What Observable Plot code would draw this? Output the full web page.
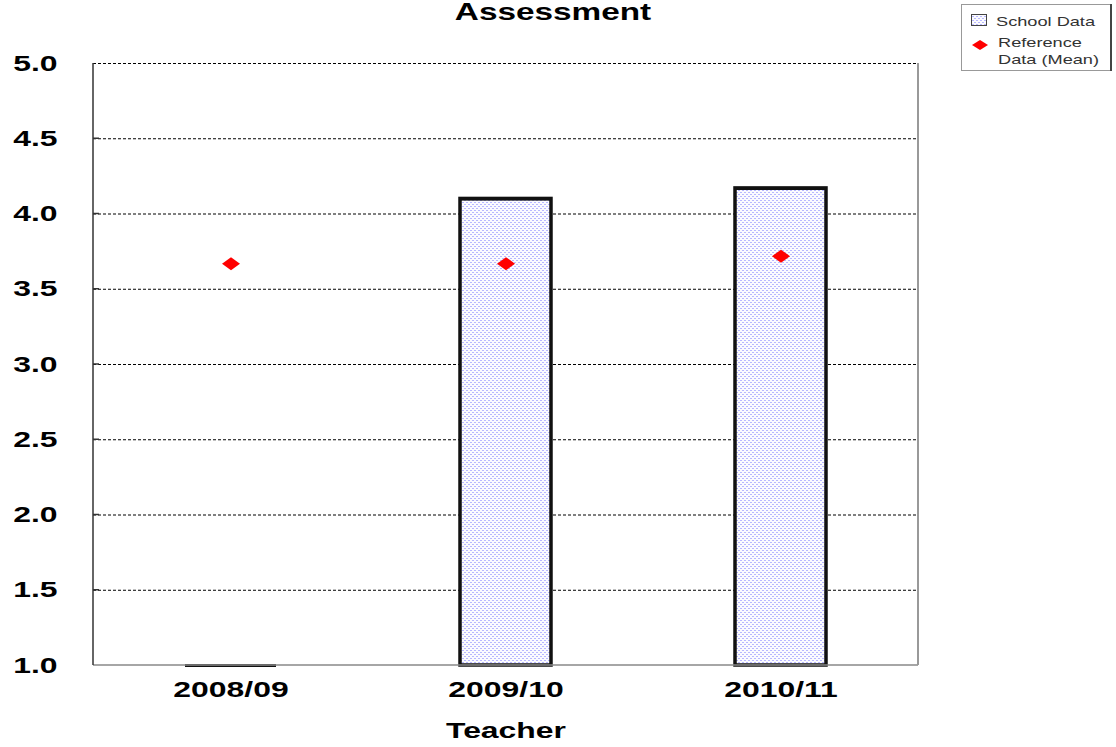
<!DOCTYPE html>
<html>
<head>
<meta charset="utf-8">
<script src="https://cdn.jsdelivr.net/npm/d3@7"></script>
<script src="https://cdn.jsdelivr.net/npm/@observablehq/plot@0.6"></script>
<style>
  html, body { margin: 0; padding: 0; background: #fff; }
  #chart { position: relative; width: 1116px; height: 747px; }
</style>
</head>
<body>
<div id="chart"></div>
<script>
// ---- data ----
const years = ["2008/09", "2009/10", "2010/11"];
const schoolData = [1.0, 4.10, 4.17];
const referenceMean = [3.67, 3.67, 3.72];
const yTicks = [1.0, 1.5, 2.0, 2.5, 3.0, 3.5, 4.0, 4.5, 5.0];
const titleText = "Assessment";
const xLabel = "Teacher";
const legendLabels = ["School Data", "Reference", "Data (Mean)"];

const rows = years.map((y, i) => ({year: y, school: schoolData[i], ref: referenceMean[i]}));

const FONT = "Liberation Sans, Arial, Helvetica, sans-serif";
const STRETCH = 1.45;

const wideDiamond = {
  draw(ctx) {
    const w = 9, h = 6.5;
    ctx.moveTo(-w, 0); ctx.lineTo(0, -h); ctx.lineTo(w, 0); ctx.lineTo(0, h); ctx.closePath();
  }
};

const plot = Plot.plot({
  width: 1116,
  height: 747,
  marginLeft: 93,
  marginRight: 198,
  marginTop: 63,
  marginBottom: 82,
  style: {fontFamily: FONT, background: "white", overflow: "visible"},
  x: {domain: years, paddingInner: 0.67, paddingOuter: 0.335, label: null},
  y: {domain: [1, 5], label: null},
  marks: [
    Plot.ruleY(yTicks.slice(1), {stroke: "#000", strokeWidth: 1, strokeDasharray: "3,2"}),
    Plot.barY(rows, {x: "year", y1: yTicks[0], y2: "school", fill: "url(#dots)", stroke: "#111", strokeWidth: 3.5}),
    Plot.tickY(rows, {x: "year", y: "school", stroke: "#111", strokeWidth: 3}),
    Plot.dot(rows, {x: "year", y: "ref", symbol: wideDiamond, fill: "#ff0000", stroke: "none"}),
    Plot.axisY({ticks: yTicks, tickFormat: d => d.toFixed(1), tickSize: 0, tickPadding: 36,
      fontSize: 22, fontWeight: "bold", fill: "#000", label: null}),
    Plot.axisX({tickSize: 0, tickPadding: 16, fontSize: 22, fontWeight: "bold", fill: "#000", label: null}),
    Plot.text([xLabel], {frameAnchor: "bottom", dx: 0, dy: 65, lineAnchor: "middle",
      fontSize: 22, fontWeight: "bold", fill: "#000"}),
    Plot.text([titleText], {frameAnchor: "top", dx: 47, dy: -60, lineAnchor: "top",
      fontSize: 23, fontWeight: "bold", fill: "#000"})
  ]
});

const svg = d3.select(plot);

// pattern for bars
const defs = svg.insert("defs", ":first-child");
const pat = defs.append("pattern").attr("id", "dots").attr("patternUnits", "userSpaceOnUse")
  .attr("width", 4).attr("height", 4);
pat.append("rect").attr("width", 4).attr("height", 4).attr("fill", "#fbfbff");
pat.append("rect").attr("x", 0).attr("y", 0).attr("width", 2).attr("height", 1).attr("fill", "#b8b8ff");
pat.append("rect").attr("x", 2).attr("y", 2).attr("width", 2).attr("height", 1).attr("fill", "#b8b8ff");

// stretch all text horizontally
svg.selectAll("text").each(function() {
  const t = d3.select(this);
  const tr = t.attr("transform") || "";
  t.attr("transform", tr + ` scale(${STRETCH},1)`);
});

// frame lines (left, right, bottom)
const yS = plot.scale("y");
const y0 = yS.apply(1), y1 = yS.apply(5);
const xL = 93, xR = 1116 - 198;
const frame = svg.append("g");
frame.append("line").attr("x1", xL).attr("x2", xR).attr("y1", y0).attr("y2", y0).attr("stroke", "#888").attr("stroke-width", 1.5);
frame.append("line").attr("x1", xR).attr("x2", xR).attr("y1", y1).attr("y2", y0).attr("stroke", "#999").attr("stroke-width", 2);
frame.append("line").attr("x1", xL).attr("x2", xL).attr("y1", y1).attr("y2", y0).attr("stroke", "#333").attr("stroke-width", 1.5);
// small inner ticks on left axis
frame.selectAll(".tk").data(yTicks.slice(1, -1)).join("line")
  .attr("x1", xL).attr("x2", xL + 6).attr("y1", d => yS.apply(d)).attr("y2", d => yS.apply(d))
  .attr("stroke", "#333").attr("stroke-width", 1.5);

// legend
const lg = svg.append("g").attr("font-family", FONT).attr("font-size", 13).attr("fill", "#333")
  .attr("text-anchor", "start");
lg.append("rect").attr("x", 961.5).attr("y", 4.5).attr("width", 149).attr("height", 66)
  .attr("fill", "white").attr("stroke", "#999").attr("stroke-width", 1);
lg.append("line").attr("x1", 1111).attr("x2", 1111).attr("y1", 4).attr("y2", 71).attr("stroke", "#444").attr("stroke-width", 2);
lg.append("rect").attr("x", 971.5).attr("y", 14.5).attr("width", 15).attr("height", 11)
  .attr("fill", "url(#dots)").attr("stroke", "#444").attr("stroke-width", 1);
lg.append("path").attr("d", "M972,45L980,40L988,45L980,50Z").attr("fill", "#ff0000");
lg.append("text").attr("text-anchor", "start").attr("transform", `translate(996,25.5) scale(1.4,1)`).text(legendLabels[0]);
lg.append("text").attr("text-anchor", "start").attr("transform", `translate(998,47) scale(1.4,1)`).text(legendLabels[1]);
lg.append("text").attr("text-anchor", "start").attr("transform", `translate(998,64) scale(1.4,1)`).text(legendLabels[2]);

document.getElementById("chart").append(plot);
</script>
</body>
</html>
